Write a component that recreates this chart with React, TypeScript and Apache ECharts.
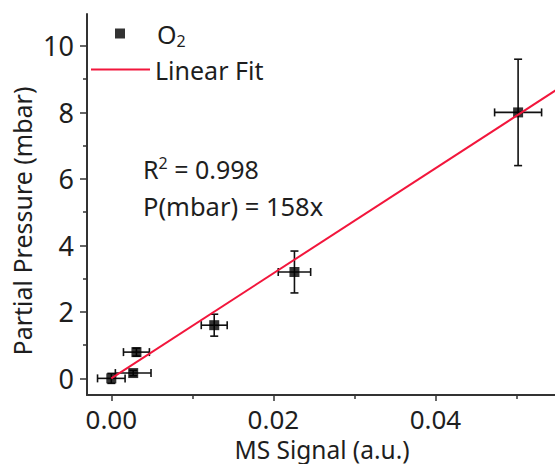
import React, { useEffect, useRef } from "react";
import * as echarts from "echarts";

const xValues = [0.0, 0.0027, 0.0031, 0.0127, 0.0226, 0.0502];
const yValues = [0.0, 0.16, 0.79, 1.6, 3.2, 8.0];
const xErrors = [0.0017, 0.0022, 0.0016, 0.0016, 0.002, 0.0029];
const yErrors = [0.15, 0.08, 0.12, 0.33, 0.63, 1.6];
const fitLine = [
  [0, 0],
  [0.055, 8.69],
];
const xTickLabels = [0, 0.02, 0.04];
const xMinorTicks = [0.01, 0.03, 0.05];
const yTickLabels = [0, 2, 4, 6, 8, 10];
const yMinorTicks = [1, 3, 5, 7, 9];

const FONT = "Noto Sans";
const TXT = "#1e1e1e";
const AX = "#333";
const RED = "#f2163c";

export default function App() {
  const ref = useRef<HTMLDivElement>(null);
  useEffect(() => {
    const chart = echarts.init(ref.current!, null, { renderer: "svg" });
    const errData = xValues.map((x, i) => [x, yValues[i], xErrors[i], yErrors[i]]);
    const gridBox = {
      left: 87,
      top: 14,
      right: -2,
      bottom: 69,
      containLabel: false,
      outerBoundsMode: "none",
    };
    const xBase = { type: "value", min: -0.003, max: 0.055, position: "bottom" };
    const yBase = { type: "value", min: -0.5, max: 10.96, position: "left" };
    chart.setOption({
      animation: false,
      backgroundColor: "#fff",
      textStyle: { fontFamily: FONT },
      grid: [gridBox, { ...gridBox }],
      legend: [
        {
          data: ["O2"],
          left: 115,
          top: 21,
          padding: 0,
          itemWidth: 10,
          itemHeight: 10,
          textStyle: {
            fontFamily: FONT,
            fontSize: 25,
            color: TXT,
            padding: [0, 0, 0, 27],
            rich: {
              a: { fontFamily: FONT, fontSize: 25, color: TXT },
              s: { fontFamily: FONT, fontSize: 16, color: TXT, padding: [14, 0, 0, 0] },
            },
          },
          formatter: (n: string) => (n === "O2" ? "{a|O}{s|2}" : n),
        },
        {
          data: ["Linear Fit"],
          left: 91,
          top: 57,
          padding: 0,
          icon: "rect",
          itemWidth: 59,
          itemHeight: 2,
          textStyle: { fontFamily: FONT, fontSize: 25, color: TXT },
        },
      ],
      xAxis: [
        {
          ...xBase,
          gridIndex: 0,
          name: "MS Signal (a.u.)",
          nameLocation: "middle",
          nameGap: 40,
          nameTextStyle: { fontFamily: FONT, fontSize: 24.5, color: TXT, lineHeight: 24 },
          axisLine: { show: true, onZero: false, lineStyle: { color: AX, width: 2 } },
          axisTick: { show: true, customValues: xTickLabels, length: 6, lineStyle: { color: AX, width: 1.5 } },
          axisLabel: {
            customValues: xTickLabels,
            fontSize: 26,
            lineHeight: 26,
            color: TXT,
            fontFamily: FONT,
            margin: 11,
            formatter: (v: number) => v.toFixed(2),
          },
          splitLine: { show: false },
        },
        {
          ...xBase,
          gridIndex: 1,
          axisLine: { show: false, onZero: false },
          axisTick: { show: true, customValues: xMinorTicks, length: 4, lineStyle: { color: AX, width: 1.5 } },
          axisLabel: { show: false, customValues: xMinorTicks },
          splitLine: { show: false },
        },
      ],
      yAxis: [
        {
          ...yBase,
          gridIndex: 0,
          axisLine: { show: true, onZero: false, lineStyle: { color: AX, width: 2 } },
          axisTick: { show: true, customValues: yTickLabels, length: 7, lineStyle: { color: AX, width: 1.5 } },
          axisLabel: {
            customValues: yTickLabels,
            fontSize: 27,
            color: TXT,
            fontFamily: FONT,
            margin: 13,
          },
          splitLine: { show: false },
        },
        {
          ...yBase,
          gridIndex: 1,
          axisLine: { show: false, onZero: false },
          axisTick: { show: true, customValues: yMinorTicks, length: 4, lineStyle: { color: AX, width: 1.5 } },
          axisLabel: { show: false, customValues: yMinorTicks },
          splitLine: { show: false },
        },
      ],
      graphic: [
        {
          type: "text",
          x: 22,
          y: 221,
          rotation: Math.PI / 2,
          style: {
            text: "Partial Pressure (mbar)",
            font: `25px "${FONT}"`,
            fill: TXT,
            align: "center",
            verticalAlign: "middle",
          },
        },
        {
          type: "text",
          x: 143,
          y: 155,
          style: {
            text: "{a|R}{s|2}{a| = 0.998}",
            fill: TXT,
            rich: {
              a: { fontFamily: FONT, fontSize: 25, fill: TXT, color: TXT },
              s: { fontFamily: FONT, fontSize: 16, fill: TXT, color: TXT, padding: [0, 0, 12, 0] },
            },
          },
        },
        {
          type: "text",
          x: 143,
          y: 193,
          style: {
            text: "P(mbar) = 158x",
            font: `25.5px "${FONT}"`,
            fill: TXT,
          },
        },
      ],
      series: [
        {
          type: "custom",
          name: "err",
          xAxisIndex: 0,
          yAxisIndex: 0,
          data: errData,
          encode: { x: 0, y: 1 },
          z: 1,
          renderItem: (params: any, api: any) => {
            const x = api.value(0);
            const y = api.value(1);
            const ex = api.value(2);
            const ey = api.value(3);
            const l = api.coord([x - ex, y]);
            const r = api.coord([x + ex, y]);
            const t = api.coord([x, y + ey]);
            const b = api.coord([x, y - ey]);
            const cap = 4;
            const st = { stroke: "#111", lineWidth: 1.6 };
            const ln = (x1: number, y1: number, x2: number, y2: number) => ({
              type: "line",
              shape: { x1, y1, x2, y2 },
              style: st,
            });
            return {
              type: "group",
              children: [
                ln(l[0], l[1], r[0], r[1]),
                ln(l[0], l[1] - cap, l[0], l[1] + cap),
                ln(r[0], r[1] - cap, r[0], r[1] + cap),
                ln(t[0], t[1], b[0], b[1]),
                ln(t[0] - cap, t[1], t[0] + cap, t[1]),
                ln(b[0] - cap, b[1], b[0] + cap, b[1]),
              ],
            };
          },
        },
        {
          type: "scatter",
          name: "O2",
          xAxisIndex: 0,
          yAxisIndex: 0,
          data: xValues.map((x, i) => [x, yValues[i]]),
          symbol: "rect",
          symbolSize: 10,
          itemStyle: { color: "#000" },
          z: 2,
        },
        {
          type: "line",
          name: "Linear Fit",
          xAxisIndex: 0,
          yAxisIndex: 0,
          data: fitLine,
          showSymbol: false,
          symbol: "none",
          lineStyle: { color: RED, width: 2 },
          itemStyle: { color: RED },
          z: 3,
        },
      ],
    });
    return () => chart.dispose();
  }, []);
  return <div ref={ref} style={{ width: 555, height: 464, position: "absolute", left: 0, top: 0 }} />;
}
